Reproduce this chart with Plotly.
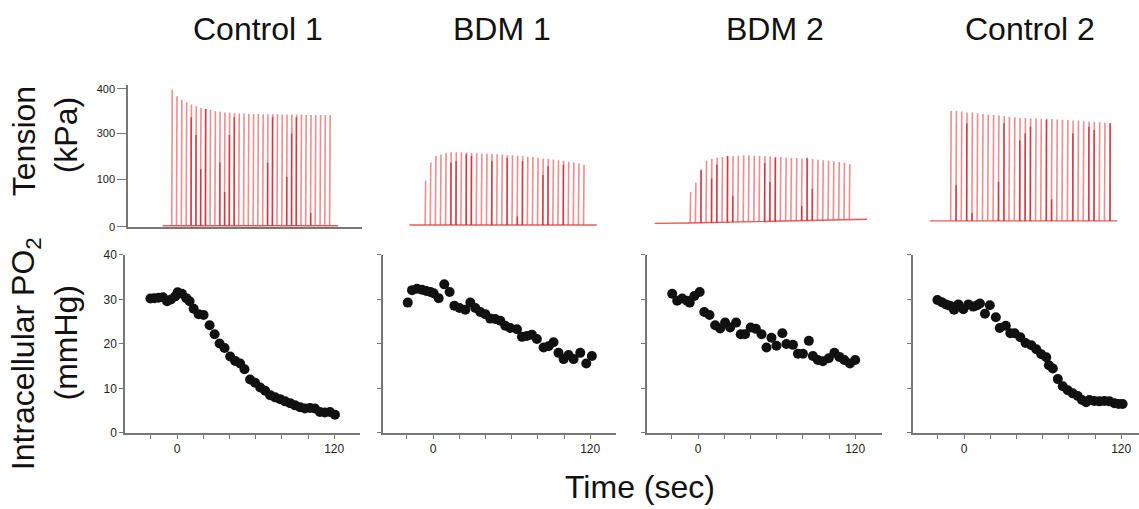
import numpy as np
import plotly.graph_objects as go

W, H = 1139, 509

panel_titles = ["Control 1", "BDM 1", "BDM 2", "Control 2"]

# ---------------- Intracellular PO2 (mmHg) vs time (s) ----------------
po2_t_c1 = [-20.3, -17.3, -14.0, -10.7, -7.6, -4.6, -1.3, 0.5, 3.8, 7.1, 9.6, 12.7, 16.5, 20.3,
            24.9, 28.7, 32.5, 36.3, 40.6, 44.4, 48.2, 51.5, 55.8, 59.6, 63.5, 67.3, 71.1, 74.9,
            78.7, 82.5, 86.3, 90.1, 93.9, 97.7, 101.5, 105.3, 109.1, 112.9, 116.8, 120.6]
po2_v_c1 = [30.2, 30.3, 30.4, 30.5, 29.6, 30.0, 30.7, 31.6, 31.3, 30.3, 29.6, 27.9, 26.7, 26.5,
            24.2, 22.2, 20.1, 19.1, 17.2, 16.2, 15.6, 14.3, 12.0, 11.3, 10.2, 9.5, 8.5, 8.0,
            7.6, 7.1, 6.7, 6.2, 5.8, 5.5, 5.6, 5.5, 4.7, 4.6, 4.7, 4.1]

po2_t_b1 = [-19.3, -16.0, -12.2, -8.4, -5.1, -2.0, 0.5, 4.3, 8.6, 12.7, 16.3, 20.3, 24.7, 28.5,
            32.3, 36.1, 39.9, 43.7, 47.5, 51.4, 55.2, 59.0, 64.1, 67.9, 71.7, 75.5, 79.3, 84.4,
            88.2, 92.0, 95.8, 99.7, 103.5, 107.3, 112.4, 117.0, 121.3]
po2_v_b1 = [29.3, 32.1, 32.4, 32.2, 31.9, 31.7, 31.4, 30.3, 33.4, 31.7, 28.6, 28.1, 27.7, 29.3,
            28.1, 27.2, 26.7, 25.7, 25.6, 25.2, 24.1, 23.6, 23.3, 21.6, 21.8, 22.1, 21.1, 19.2,
            19.5, 20.4, 18.0, 16.6, 17.5, 16.6, 18.0, 15.6, 17.3]

po2_t_b2 = [-19.7, -15.9, -12.1, -8.3, -6.3, -2.8, 1.3, 4.8, 8.8, 13.1, 16.9, 20.7, 24.5, 29.1,
            32.6, 35.9, 40.2, 44.2, 48.5, 52.3, 56.1, 59.9, 64.4, 67.5, 72.5, 76.3, 80.1, 84.6,
            87.7, 91.5, 95.3, 99.8, 104.1, 107.9, 111.7, 116.0, 120.0]
po2_v_b2 = [31.3, 29.7, 30.2, 29.7, 29.3, 30.8, 31.7, 27.2, 26.5, 24.2, 23.5, 24.8, 23.7, 24.8,
            22.2, 22.2, 23.7, 23.4, 22.2, 19.2, 21.4, 19.6, 22.4, 20.0, 19.8, 17.8, 17.8, 20.7,
            17.3, 16.4, 16.1, 16.8, 18.0, 17.1, 16.4, 15.6, 16.4]

po2_t_c2 = [-20.3, -17.0, -13.7, -10.6, -7.6, -4.3, -0.5, 3.3, 7.1, 10.1, 12.2, 16.0, 19.7, 24.3,
            27.3, 31.9, 35.4, 38.7, 43.0, 47.0, 51.4, 55.2, 59.0, 62.8, 64.8, 67.8, 71.6, 75.4,
            79.2, 83.0, 86.8, 90.1, 93.2, 95.7, 99.5, 103.4, 107.2, 111.0, 114.8, 118.1, 121.1]
po2_v_c2 = [29.9, 29.4, 28.9, 28.6, 27.7, 28.9, 27.8, 28.9, 28.4, 28.7, 29.1, 26.8, 28.7, 26.0,
            23.6, 24.1, 22.4, 22.4, 21.5, 20.2, 19.7, 18.8, 17.7, 17.0, 15.2, 14.5, 12.1, 10.5,
            9.6, 8.9, 8.3, 7.4, 6.9, 7.4, 7.2, 7.1, 7.2, 7.1, 6.7, 6.5, 6.5]

# ---------------- Tension: twitch times (s) and peak values ----------------
spk_t_c1 = [-4.0, -0.4, 3.3, 7.0, 10.6, 14.3, 17.9, 21.6, 25.2, 28.9, 32.5, 36.2, 39.8, 43.5,
            47.1, 50.8, 54.4, 58.1, 61.7, 65.4, 69.0, 72.7, 76.3, 80.0, 83.6, 87.3, 90.9, 94.6,
            98.2, 101.9, 105.5, 109.2, 112.8, 116.5]
spk_v_c1 = [397, 378, 368, 360, 354, 349, 345, 341, 338, 335, 333, 331, 330, 329, 328, 328, 327,
            327, 327, 326, 326, 326, 326, 325, 325, 325, 325, 325, 324, 324, 324, 324, 324, 324]
base_t_c1 = [-11, 123]
base_v_c1 = [3, 3]
# darker (relaxation) strokes seen inside the twitch trains
dark_t_c1 = [10.6, 14.3, 17.9, 21.6, 32.5, 36.2, 39.8, 43.5, 69.0, 72.7, 83.6, 87.3, 90.9, 101.9]
dark_v_c1 = [317, 266, 167, 341, 186, 101, 266, 317, 186, 317, 144, 270, 317, 40]

spk_t_b1 = [-6.0, -2.1, 1.8, 5.7, 9.6, 13.5, 17.4, 21.3, 25.2, 29.1, 33.0, 36.9, 40.8, 44.7,
            48.6, 52.5, 56.4, 60.3, 64.2, 68.1, 72.0, 75.9, 79.8, 83.7, 87.6, 91.5, 95.4, 99.3,
            103.2, 107.1, 111.0, 114.9]
spk_v_b1 = [134, 186, 205, 209, 214, 216, 216, 216, 215, 214, 213, 212, 212, 211, 210, 209, 208,
            207, 206, 205, 203, 202, 200, 198, 197, 195, 193, 191, 188, 186, 183, 180]
base_t_b1 = [-18, 125]
base_v_b1 = [5, 5]
dark_t_b1 = [13.5, 17.4, 25.2, 29.1, 44.7, 56.4, 64.2, 68.1, 83.7, 87.6, 99.3]
dark_v_b1 = [186, 190, 210, 205, 190, 200, 30, 190, 150, 175, 180]

spk_t_b2 = [-6.0, -2.0, 2.1, 6.1, 10.2, 14.2, 18.3, 22.3, 26.4, 30.4, 34.5, 38.5, 42.6, 46.6,
            50.7, 54.7, 58.8, 62.8, 66.9, 70.9, 75.0, 79.0, 83.1, 87.1, 91.2, 95.2, 99.3, 103.3,
            107.4, 111.4, 115.5]
spk_v_b2 = [101, 128, 165, 191, 197, 200, 202, 204, 205, 206, 207, 207, 206, 205, 205, 204, 203,
            202, 201, 200, 199, 198, 197, 196, 194, 193, 191, 190, 188, 186, 181]
base_t_b2 = [-33, -6, 129]
base_v_b2 = [10, 11, 22]
dark_t_b2 = [2.1, 10.2, 14.2, 22.3, 26.4, 50.7, 54.7, 58.8, 79.0, 83.1, 87.1]
dark_v_b2 = [165, 140, 180, 205, 90, 185, 130, 200, 60, 200, 110]

spk_t_c2 = [-10.2, -6.2, -2.1, 1.9, 6.0, 10.0, 14.1, 18.1, 22.2, 26.2, 30.3, 34.3, 38.4, 42.4,
            46.5, 50.5, 54.6, 58.6, 62.7, 66.7, 70.8, 74.8, 78.9, 82.9, 87.0, 91.0, 95.1, 99.1,
            103.2, 107.2, 111.3]
spk_v_c2 = [336, 336, 334, 331, 331, 329, 327, 325, 324, 322, 321, 319, 317, 315, 315, 314, 314,
            313, 313, 312, 311, 310, 309, 308, 308, 306, 305, 304, 303, 301, 300]
base_t_c2 = [-26, 117]
base_v_c2 = [17, 17]
dark_t_c2 = [-6.2, 1.9, 6.0, 26.2, 30.3, 42.4, 46.5, 50.5, 62.7, 66.7, 82.9, 95.1, 99.1, 111.3]
dark_v_c2 = [120, 300, 40, 130, 300, 250, 270, 290, 310, 80, 270, 290, 280, 300]

# tick labels
tension_tick_vals = [0, 138, 270, 400]
tension_tick_text = ["0", "100", "300", "400"]
po2_tick_vals = [0, 10, 20, 30, 40]
time_label_vals = [0, 120]
time_minor_vals = [-20, 20, 40, 60, 80, 100]

po2_t = [po2_t_c1, po2_t_b1, po2_t_b2, po2_t_c2]
po2_v = [po2_v_c1, po2_v_b1, po2_v_b2, po2_v_c2]
spk_t = [spk_t_c1, spk_t_b1, spk_t_b2, spk_t_c2]
spk_v = [spk_v_c1, spk_v_b1, spk_v_b2, spk_v_c2]
base_t = [base_t_c1, base_t_b1, base_t_b2, base_t_c2]
base_v = [base_v_c1, base_v_b1, base_v_b2, base_v_c2]
dark_t = [dark_t_c1, dark_t_b1, dark_t_b2, dark_t_c2]
dark_v = [dark_v_c1, dark_v_b1, dark_v_b2, dark_v_c2]

# ---------------- layout geometry (page pixels) ----------------
def fx(p):
    return min(max(p / W, 0.0), 1.0)

def fy(p):
    return min(max(1 - p / H, 0.0), 1.0)

bot_x_dom = [(125, 360), (383, 616), (647, 882), (913, 1139)]
zero_px = [177, 433, 698, 964]
sec_px = 1.31
top_x_dom = [(128, 362), (383, 616), (647, 882), (913, 1139)]

# top y: value 0 at 226 px, 400 at 84 px
ty_scale = (226 - 84) / 400.0
ty_range = [-2, 410]
ty_dom = (fy(226 + 2 * ty_scale), fy(84 - 10 * ty_scale))
by_dom = (fy(438), fy(255))

AX = "#777777"
TICKFONT = dict(family="Liberation Sans, Arial, sans-serif", size=12, color="#222222")
BIGFONT = dict(family="Liberation Sans, Arial, sans-serif", size=32, color="#111111")

fig = go.Figure()
layout = dict(
    width=W, height=H,
    margin=dict(l=0, r=0, t=0, b=0),
    paper_bgcolor="white", plot_bgcolor="white",
    showlegend=False,
)

for i in range(4):
    top_n = i + 1
    bot_n = i + 5
    # tension spikes
    xs, ys = [], []
    for t, v in zip(spk_t[i], spk_v[i]):
        b = float(np.interp(t, base_t[i], base_v[i]))
        xs += [t, t + 0.4, None]
        ys += [b, v, None]
    dxs, dys = [], []
    for t, v in zip(dark_t[i], dark_v[i]):
        b = float(np.interp(t, base_t[i], base_v[i]))
        dxs += [t + 0.2, t + 0.2, None]
        dys += [b, v, None]
    fig.add_trace(go.Scatter(x=base_t[i], y=base_v[i], mode="lines",
                             line=dict(color="rgba(225,50,50,0.8)", width=1.4),
                             xaxis=f"x{top_n}", yaxis=f"y{top_n}", hoverinfo="skip"))
    fig.add_trace(go.Scatter(x=xs, y=ys, mode="lines",
                             line=dict(color="rgba(232,70,75,0.62)", width=1.6),
                             xaxis=f"x{top_n}", yaxis=f"y{top_n}", hoverinfo="skip"))
    fig.add_trace(go.Scatter(x=dxs, y=dys, mode="lines",
                             line=dict(color="rgba(200,30,40,0.75)", width=1.5),
                             xaxis=f"x{top_n}", yaxis=f"y{top_n}", hoverinfo="skip"))
    # PO2 points
    fig.add_trace(go.Scatter(x=po2_t[i], y=po2_v[i], mode="markers",
                             marker=dict(color="#111111", size=10, line=dict(width=0)),
                             xaxis=f"x{bot_n}", yaxis=f"y{bot_n}"))

    # top axes
    tx0, tx1 = top_x_dom[i]
    layout[f"xaxis{top_n}"] = dict(
        domain=[fx(tx0), fx(tx1)],
        range=[(tx0 - zero_px[i]) / sec_px, (tx1 - zero_px[i]) / sec_px],
        anchor=f"y{top_n}", showline=(i == 0), linecolor=AX, linewidth=1.5,
        showticklabels=False, ticks="", showgrid=False, zeroline=False)
    ytop = dict(
        domain=list(ty_dom), range=ty_range, anchor=f"x{top_n}",
        showline=(i == 0), linecolor=AX, linewidth=1.5,
        showgrid=False, zeroline=False)
    if i == 0:
        ytop.update(tickvals=tension_tick_vals, ticktext=tension_tick_text,
                    ticks="outside", ticklen=9, tickcolor=AX, tickwidth=1.2,
                    tickfont=dict(TICKFONT, size=11))
    else:
        ytop.update(showticklabels=False, ticks="")
    layout[f"yaxis{top_n}"] = ytop

    # bottom axes
    bx0, bx1 = bot_x_dom[i]
    layout[f"xaxis{bot_n}"] = dict(
        domain=[fx(bx0), fx(bx1)],
        range=[(bx0 - zero_px[i]) / sec_px, (bx1 - zero_px[i]) / sec_px],
        anchor=f"y{bot_n}", showline=True, linecolor=AX, linewidth=1.5,
        tickmode="array", tickvals=time_label_vals, ticklabeloverflow="allow",
        ticks="outside", ticklen=4, tickcolor=AX, tickwidth=1.2,
        minor=dict(tickmode="array", tickvals=time_minor_vals, ticks="outside",
                   ticklen=4, tickcolor=AX, tickwidth=1.2, showgrid=False),
        tickfont=TICKFONT, showgrid=False, zeroline=False)
    layout[f"yaxis{bot_n}"] = dict(
        domain=list(by_dom), range=[0, 40], anchor=f"x{bot_n}",
        showline=True, linecolor=AX, linewidth=1.5,
        tickmode="array", tickvals=po2_tick_vals, showticklabels=(i == 0),
        ticks="outside", ticklen=4, tickcolor=AX, tickwidth=1.2,
        tickfont=TICKFONT, showgrid=False, zeroline=False)

annos = []
title_x = [258, 502, 775, 1030]
for name, xp in zip(panel_titles, title_x):
    annos.append(dict(text=name, x=fx(xp), y=fy(23), xref="paper", yref="paper",
                      xanchor="center", yanchor="middle", showarrow=False, font=BIGFONT))
annos.append(dict(text="Time (sec)", x=fx(640), y=fy(494), xref="paper", yref="paper",
                  xanchor="center", yanchor="middle", showarrow=False, font=BIGFONT))
for txt, xp, yp in [("Tension", 24, 138), ("(kPa)", 66, 132),
                    ("Intracellular PO<sub>2</sub>", 25, 357), ("(mmHg)", 66, 345)]:
    annos.append(dict(text=txt, x=fx(xp), y=fy(yp), xref="paper", yref="paper",
                      xanchor="center", yanchor="middle", showarrow=False,
                      textangle=-90, font=BIGFONT))
layout["annotations"] = annos

fig.update_layout(**layout)
fig.write_html("out.html",
               config={"displayModeBar": False},
               post_script="document.body.style.margin='0px';"
                           "document.documentElement.style.overflow='hidden';")
